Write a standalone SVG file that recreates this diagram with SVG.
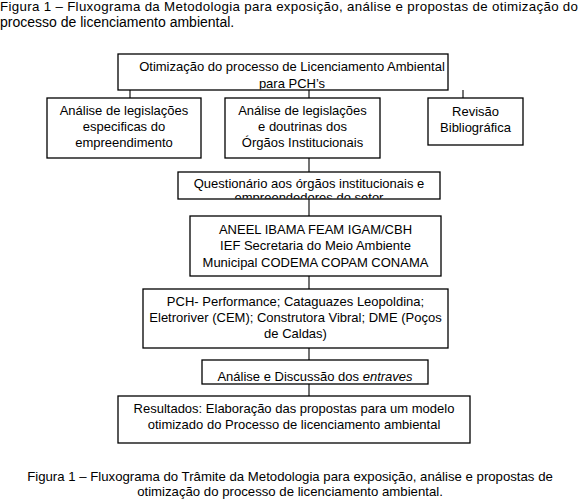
<svg xmlns="http://www.w3.org/2000/svg" width="580" height="499" viewBox="0 0 580 499">
<style>
text{font-family:"Liberation Sans",Arial,sans-serif;font-size:13px;fill:#000;text-anchor:middle}
.cap{font-size:13.3px;text-anchor:start}
.cap2{font-size:13.2px}
.box{fill:#fff;stroke:#000;stroke-width:1.3}
.con{stroke:#000;stroke-width:1.1;fill:none}
</style>
<defs>
<clipPath id="c1"><rect x="118" y="54" width="330" height="35.5"/></clipPath>
<clipPath id="c2"><rect x="178" y="172" width="262" height="26.5"/></clipPath>
<clipPath id="c3"><rect x="202" y="360" width="226" height="23.5"/></clipPath>
</defs>
<text class="cap" x="0" y="11" textLength="578" lengthAdjust="spacing">Figura 1 – Fluxograma da Metodologia para exposição, análise e propostas de otimização do</text>
<text class="cap" x="0" y="27" style="font-size:14px">processo de licenciamento ambiental.</text>
<g id="connectors">
<path class="con" d="M130 90V98M309 90V98M463 90V98"/>
<path class="con" d="M309 158V172M309 199V216M309 276V289M309 348V360M309 384V396"/>
</g>
<g id="n1"><rect class="box" x="118" y="54" width="330" height="36"/>
<g clip-path="url(#c1)"><text x="292" y="71">Otimização do processo de Licenciamento Ambiental</text><text x="292" y="88">para PCH’s</text></g></g>
<g id="n2"><rect class="box" x="47" y="98" width="154" height="60"/>
<text x="124" y="115">Análise de legislações</text><text x="124" y="131">especificas do</text><text x="124" y="147">empreendimento</text></g>
<g id="n3"><rect class="box" x="225" y="98" width="155" height="60"/>
<text x="302.5" y="115">Análise de legislações</text><text x="302.5" y="131">e doutrinas dos</text><text x="302.5" y="147">Órgãos Institucionais</text></g>
<g id="n4"><rect class="box" x="428" y="98" width="95" height="47"/>
<text x="475.5" y="116">Revisão</text><text x="475.5" y="132">Bibliográfica</text></g>
<g id="n5"><rect class="box" x="178" y="172" width="262" height="27"/>
<g clip-path="url(#c2)"><text x="309" y="188">Questionário aos órgãos institucionais e</text><text x="309" y="202">empreendedores do setor</text></g></g>
<g id="n6"><rect class="box" x="190" y="216" width="251" height="60"/>
<text x="315.5" y="234">ANEEL IBAMA FEAM IGAM/CBH</text><text x="315.5" y="250">IEF Secretaria do Meio Ambiente</text><text x="315.5" y="267">Municipal CODEMA COPAM CONAMA</text></g>
<g id="n7"><rect class="box" x="143" y="289" width="305" height="59"/>
<text x="295.5" y="306">PCH- Performance; Cataguazes Leopoldina;</text><text x="295.5" y="322">Eletroriver (CEM); Construtora Vibral; DME (Poços</text><text x="295.5" y="338">de Caldas)</text></g>
<g id="n8"><rect class="box" x="202" y="360" width="226" height="24"/>
<g clip-path="url(#c3)"><text x="315" y="381">Análise e Discussão dos <tspan font-style="italic">entraves</tspan></text></g></g>
<g id="n9"><rect class="box" x="118" y="396" width="352" height="47"/>
<text x="294" y="413">Resultados: Elaboração das propostas para um modelo</text><text x="294" y="429">otimizado do Processo de licenciamento ambiental</text></g>
<text class="cap2" x="290" y="481">Figura 1 – Fluxograma do Trâmite da Metodologia para exposição, análise e propostas de</text>
<text class="cap2" x="290" y="496">otimização do processo de licenciamento ambiental.</text>
</svg>
